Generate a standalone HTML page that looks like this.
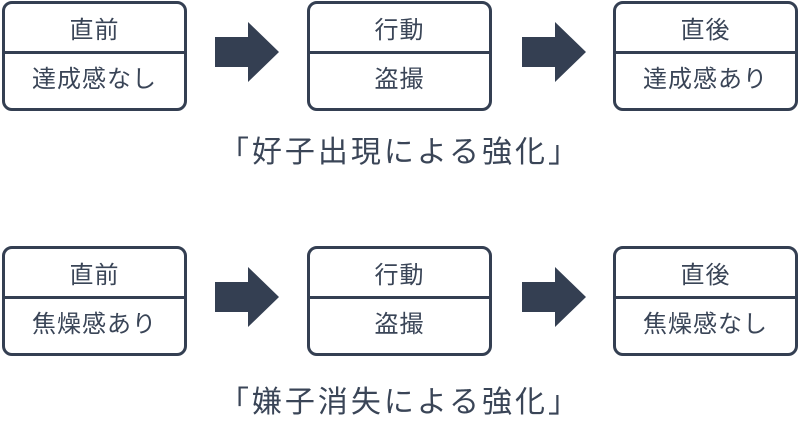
<!DOCTYPE html>
<html>
<head>
<meta charset="utf-8">
<style>
  html, body { margin:0; padding:0; background:#fff; }
  body { width:800px; height:439px; position:relative; overflow:hidden;
         font-family:"Liberation Sans","Noto Sans CJK JP",sans-serif; color:#3a4557; }
  .box { position:absolute; width:179px; height:104px; border:3px solid #343f52; border-radius:10px; box-sizing:content-box; }
  .div { position:absolute; left:0; right:0; height:3px; background:#343f52; top:47px; }
  .t { position:absolute; left:0; right:0; text-align:center; font-size:24px; line-height:24px; letter-spacing:1px; white-space:nowrap; }
  .cap { position:absolute; left:200px; width:400px; text-align:center; font-size:30px; line-height:30px; letter-spacing:3px; white-space:nowrap; }
  svg { position:absolute; left:0; top:0; }
</style>
</head>
<body>
<svg width="800" height="439">
  <polygon points="215,37 248,37 248,22 279,52 248,82 248,67 215,67" fill="#343f52"/>
  <polygon points="522,37 555,37 555,22 586,52 555,82 555,67 522,67" fill="#343f52"/>
  <polygon points="215,282 248,282 248,267 279,297 248,327 248,312 215,312" fill="#343f52"/>
  <polygon points="522,282 555,282 555,267 586,297 555,327 555,312 522,312" fill="#343f52"/>
</svg>

<!-- Row 1 -->
<div class="box" style="left:2px;top:1px;">
  <div class="div"></div>
  <div class="t" style="top:15px;">直前</div>
  <div class="t" style="top:64px;">達成感なし</div>
</div>
<div class="box" style="left:307px;top:1px;">
  <div class="div"></div>
  <div class="t" style="top:15px;">行動</div>
  <div class="t" style="top:64px;">盗撮</div>
</div>
<div class="box" style="left:613px;top:1px;">
  <div class="div"></div>
  <div class="t" style="top:15px;">直後</div>
  <div class="t" style="top:64px;">達成感あり</div>
</div>
<div class="cap" style="top:138px;">「好子出現による強化」</div>

<!-- Row 2 -->
<div class="box" style="left:2px;top:246px;">
  <div class="div"></div>
  <div class="t" style="top:15px;">直前</div>
  <div class="t" style="top:64px;">焦燥感あり</div>
</div>
<div class="box" style="left:307px;top:246px;">
  <div class="div"></div>
  <div class="t" style="top:15px;">行動</div>
  <div class="t" style="top:64px;">盗撮</div>
</div>
<div class="box" style="left:613px;top:246px;">
  <div class="div"></div>
  <div class="t" style="top:15px;">直後</div>
  <div class="t" style="top:64px;">焦燥感なし</div>
</div>
<div class="cap" style="top:388px;">「嫌子消失による強化」</div>
</body>
</html>
